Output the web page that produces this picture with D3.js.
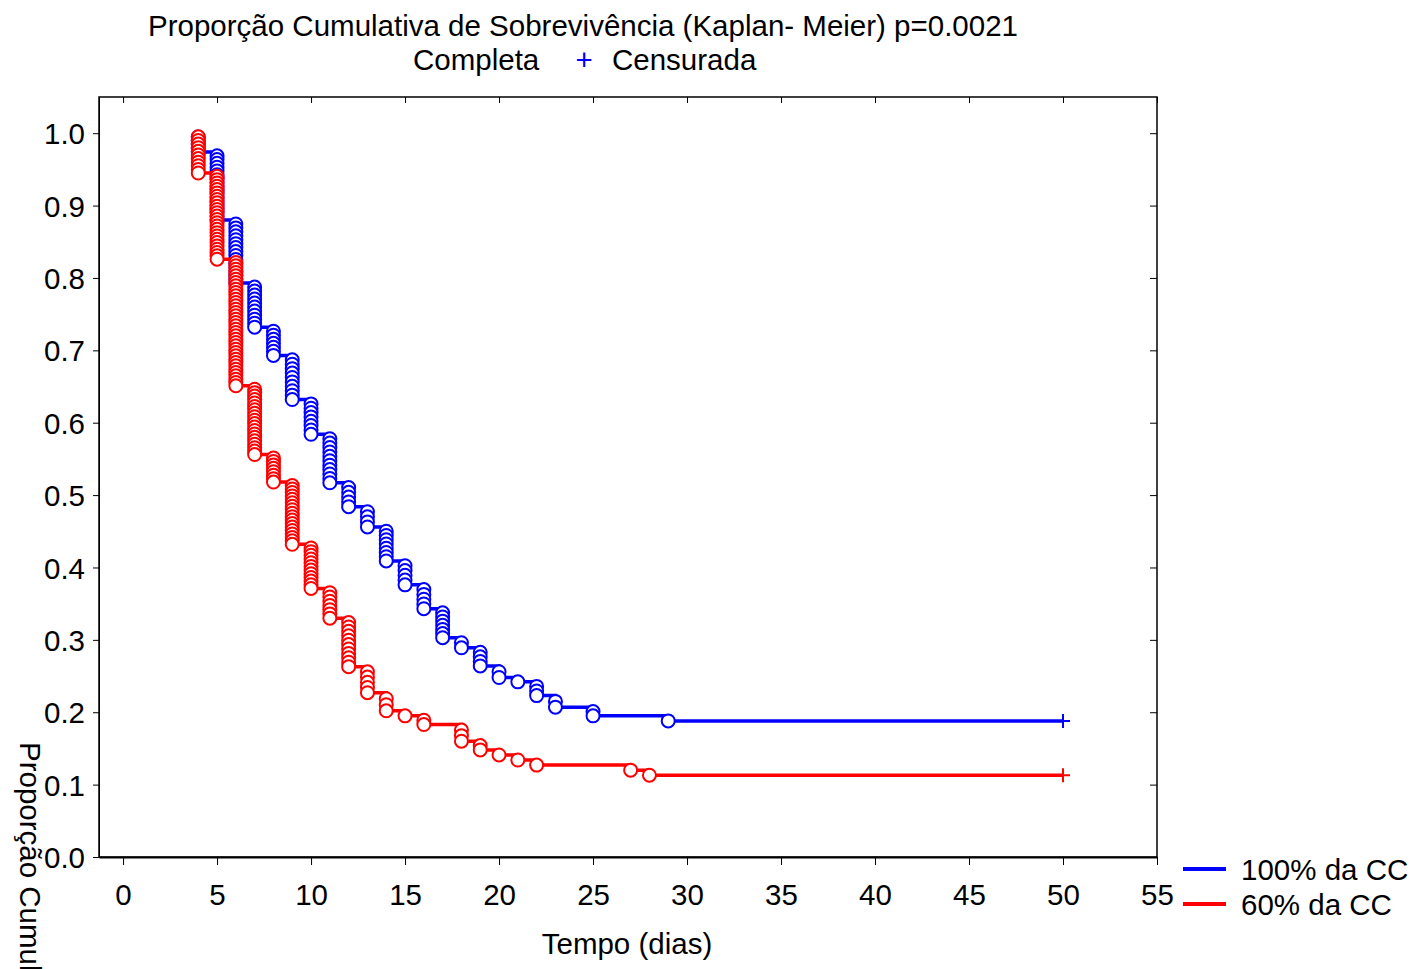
<!DOCTYPE html>
<html><head><meta charset="utf-8">
<script src="https://cdn.jsdelivr.net/npm/d3@7"></script>
<style>body{margin:0;background:#fff;} text{font-family:"Liberation Sans",Arial,sans-serif;}</style>
</head><body>
<svg id="c" width="1413" height="969"></svg>
<script>
// Group 1: 100% da CC
const blueTimes  = [4, 5, 6, 7, 8, 9, 10, 11, 12, 13, 14, 15, 16, 17, 18, 19, 20, 21, 22, 23, 25, 29];
const blueSurv   = [0.974, 0.880, 0.793, 0.732, 0.693, 0.632, 0.584, 0.517, 0.484, 0.456, 0.409, 0.376, 0.343, 0.303, 0.289, 0.264, 0.248, 0.242, 0.223, 0.207, 0.195, 0.188];
const blueDeaths = [5, 18, 16, 11, 7, 10, 8, 11, 5, 4, 8, 5, 5, 7, 2, 4, 2, 1, 3, 2, 2, 1];
const blueCensor = [50];
// Group 2: 60% da CC
const redTimes  = [4, 5, 6, 7, 8, 9, 10, 11, 12, 13, 14, 15, 16, 18, 19, 20, 21, 22, 27, 28];
const redSurv   = [0.945, 0.826, 0.651, 0.556, 0.518, 0.432, 0.371, 0.330, 0.263, 0.227, 0.202, 0.195, 0.183, 0.160, 0.148, 0.141, 0.134, 0.127, 0.120, 0.113];
const redDeaths = [11, 26, 38, 20, 8, 18, 12, 7, 11, 5, 3, 1, 2, 3, 2, 1, 1, 1, 1, 1];
const redCensor = [50];

const xTicks = [0,5,10,15,20,25,30,35,40,45,50,55];
const yTicks = [0,0.1,0.2,0.3,0.4,0.5,0.6,0.7,0.8,0.9,1.0];

const titleText = "Proporção Cumulativa de Sobrevivência (Kaplan- Meier) p=0.0021";
const xTitle = "Tempo (dias)";
const yTitle = "Proporção Cumulativa";
const seriesNames = ["100% da CC", "60% da CC"];
const colors = ["#0000ff", "#ff0000"];

const svg = d3.select("#c");
const L=99, R=1157, T=97, B=857;
const x = d3.scaleLinear().domain([-1.28, 55]).range([L, R]);
const y = d3.scaleLinear().domain([0, 1.05]).range([B, T]);
const fs = 29.5;

// titles
svg.append("text").attr("x", 583).attr("y", 36).attr("text-anchor","middle").attr("font-size",fs).text(titleText);
svg.append("text").attr("x", 413).attr("y", 70).attr("font-size",fs).text("Completa");
svg.append("text").attr("x", 584).attr("y", 70).attr("text-anchor","middle").attr("font-size",fs).attr("fill","#0000ff").text("+");
svg.append("text").attr("x", 612).attr("y", 70).attr("font-size",fs).text("Censurada");

// frame
svg.append("rect").attr("x",L).attr("y",T).attr("width",R-L).attr("height",B-T).attr("fill","none").attr("stroke","#000").attr("stroke-width",1.5);

// axes
const xAxis = d3.axisBottom(x).tickValues(xTicks).tickSize(8).tickSizeOuter(0).tickFormat(d3.format("d"));
const gx = svg.append("g").attr("transform",`translate(0,${B})`).call(xAxis);
gx.select(".domain").attr("stroke-width",2);
gx.selectAll("text").attr("font-size",fs).attr("font-family","Liberation Sans, Arial, sans-serif").attr("dy","0").attr("y",48).attr("fill","#000");
const xTop = d3.axisBottom(x).tickValues(xTicks).tickSize(6).tickFormat("");
svg.append("g").attr("transform",`translate(0,${T})`).call(xTop).select(".domain").remove();

const yAxis = d3.axisLeft(y).tickValues(yTicks).tickSize(6).tickSizeOuter(0).tickFormat(d3.format(".1f"));
const gy = svg.append("g").attr("transform",`translate(${L},0)`).call(yAxis);
gy.selectAll("text").attr("font-size",fs).attr("font-family","Liberation Sans, Arial, sans-serif").attr("x",-14).attr("dy","0.36em").attr("fill","#000");
const yRight = d3.axisLeft(y).tickValues(yTicks).tickSize(7).tickFormat("");
svg.append("g").attr("transform",`translate(${R},0)`).call(yRight).select(".domain").remove();

svg.append("text").attr("x", 627).attr("y", 954).attr("text-anchor","middle").attr("font-size",fs).text(xTitle);
svg.append("text").attr("transform","translate(20,742) rotate(90)").attr("font-size",fs).text(yTitle);

// series
function drawSeries(times, surv, deaths, censor, color){
  const pts = [[times[0], 1.0]];
  times.forEach((t,i)=>pts.push([t, surv[i]]));
  const last = surv[surv.length-1];
  censor.forEach(c=>pts.push([c, last]));
  const line = d3.line().x(d=>x(d[0])).y(d=>y(d[1])).curve(d3.curveStepAfter);
  svg.append("path").datum(pts).attr("d", line).attr("fill","none").attr("stroke",color).attr("stroke-width",3.5);
  const circles = [];
  let prev = 1.0;
  times.forEach((t,i)=>{
    const k = deaths[i];
    for(let j=1;j<=k;j++) circles.push([t, prev - (prev - surv[i])*j/k]);
    prev = surv[i];
  });
  svg.append("g").selectAll("circle").data(circles).join("circle")
    .attr("cx",d=>x(d[0])).attr("cy",d=>y(d[1])).attr("r",6.5)
    .attr("fill","#fff").attr("stroke",color).attr("stroke-width",2);
  censor.forEach(c=>{
    const cx = x(c), cy = y(last);
    svg.append("path").attr("d",`M${cx-7},${cy}H${cx+7}M${cx},${cy-7}V${cy+7}`).attr("stroke",color).attr("stroke-width",2);
  });
}
drawSeries(blueTimes, blueSurv, blueDeaths, blueCensor, colors[0]);
drawSeries(redTimes, redSurv, redDeaths, redCensor, colors[1]);

// legend
seriesNames.forEach((n,i)=>{
  const ly = 869 + i*35;
  svg.append("line").attr("x1",1183).attr("x2",1226).attr("y1",ly).attr("y2",ly).attr("stroke",colors[i]).attr("stroke-width",4);
  svg.append("text").attr("x",1241).attr("y",ly).attr("dy","0.36em").attr("font-size",fs).text(n);
});
</script>
</body></html>
